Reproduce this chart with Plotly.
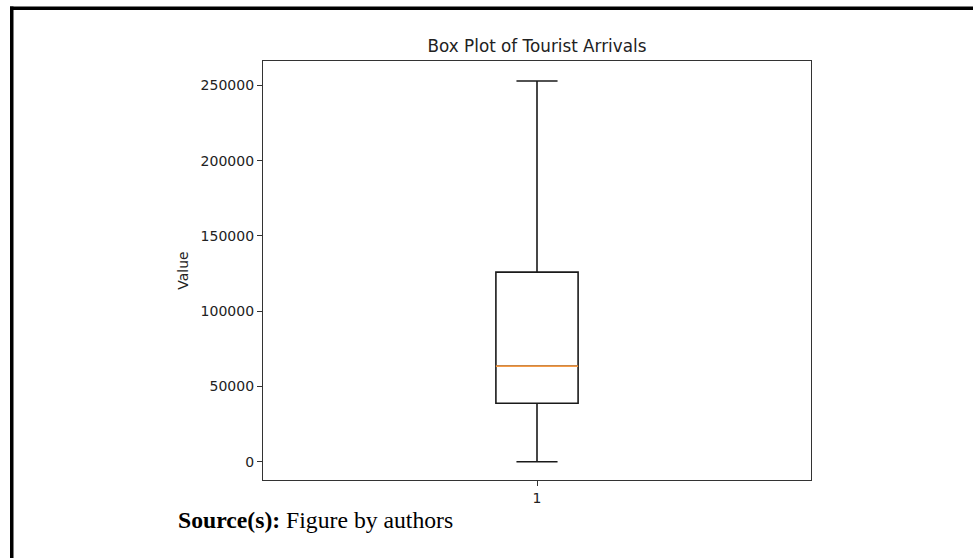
import plotly.graph_objects as go

# ---- data ----
categories = [1]
q1_vals = [38800]
median_vals = [63500]
q3_vals = [126000]
lower_fence = [0]
upper_fence = [253000]
y_ticks = [0, 50000, 100000, 150000, 200000, 250000]

W, H = 973, 558
L, R, T, B = 263, 162, 61, 78
pw = W - L - R
ph = H - T - B
box_width = 0.15

def px_to_paper_x(px):
    return (px - L) / pw

def px_to_paper_y(py):
    return (H - B - py) / ph

fig = go.Figure()
fig.add_trace(go.Box(
    x=categories, q1=q1_vals, median=median_vals, q3=q3_vals,
    lowerfence=lower_fence, upperfence=upper_fence,
    width=box_width, whiskerwidth=0.5, boxpoints=False,
    line=dict(color="#1a1a1a", width=1.6), fillcolor="rgba(255,255,255,0)",
    hoverinfo="skip", showlegend=False,
))
for c, m in zip(categories, median_vals):
    fig.add_trace(go.Scatter(
        x=[c - box_width / 2, c + box_width / 2], y=[m, m], mode="lines",
        line=dict(color="#f59a45", width=1.6), hoverinfo="skip", showlegend=False,
    ))

font_family = "DejaVu Sans"
fig.update_layout(
    width=W, height=H,
    margin=dict(l=L, r=R, t=T, b=B, pad=0),
    paper_bgcolor="white", plot_bgcolor="white",
    font=dict(family=font_family, size=14, color="#222"),
    title=dict(text="Box Plot of Tourist Arrivals", x=0.5, xref="paper",
               xanchor="center", y=1 - 46 / H, yref="container", yanchor="middle",
               font=dict(family=font_family, size=16.8, color="#222")),
    xaxis=dict(range=[0.5, 1.5], tickvals=categories, ticktext=[str(c) for c in categories],
               showline=True, mirror=True, linecolor="#333", linewidth=1.3,
               ticks="outside", ticklen=5, tickcolor="#333", showgrid=False, zeroline=False,
               tickfont=dict(size=14)),
    yaxis=dict(range=[-12150, 266270], tickvals=y_ticks, tickformat="d",
               showline=True, mirror=True, linecolor="#333", linewidth=1.3,
               ticks="outside", ticklen=5, tickcolor="#333", showgrid=False, zeroline=False,
               tickfont=dict(size=14),
               title=dict(text="Value", standoff=8, font=dict(size=14))),
    annotations=[dict(
        text="<b>Source(s):</b> Figure by authors", xref="paper", yref="paper",
        x=px_to_paper_x(176), y=px_to_paper_y(520), xanchor="left", yanchor="middle",
        showarrow=False, font=dict(family="Liberation Serif", size=23.7, color="black"),
    )],
    shapes=[
        dict(type="line", xref="paper", yref="paper",
             x0=px_to_paper_x(11.75), x1=px_to_paper_x(11.75),
             y0=px_to_paper_y(6.5), y1=px_to_paper_y(H + 5),
             line=dict(color="black", width=3.5)),
        dict(type="line", xref="paper", yref="paper",
             x0=px_to_paper_x(10), x1=px_to_paper_x(W + 5),
             y0=px_to_paper_y(8.3), y1=px_to_paper_y(8.3),
             line=dict(color="black", width=3.5)),
    ],
)

fig.write_html("out.html")
